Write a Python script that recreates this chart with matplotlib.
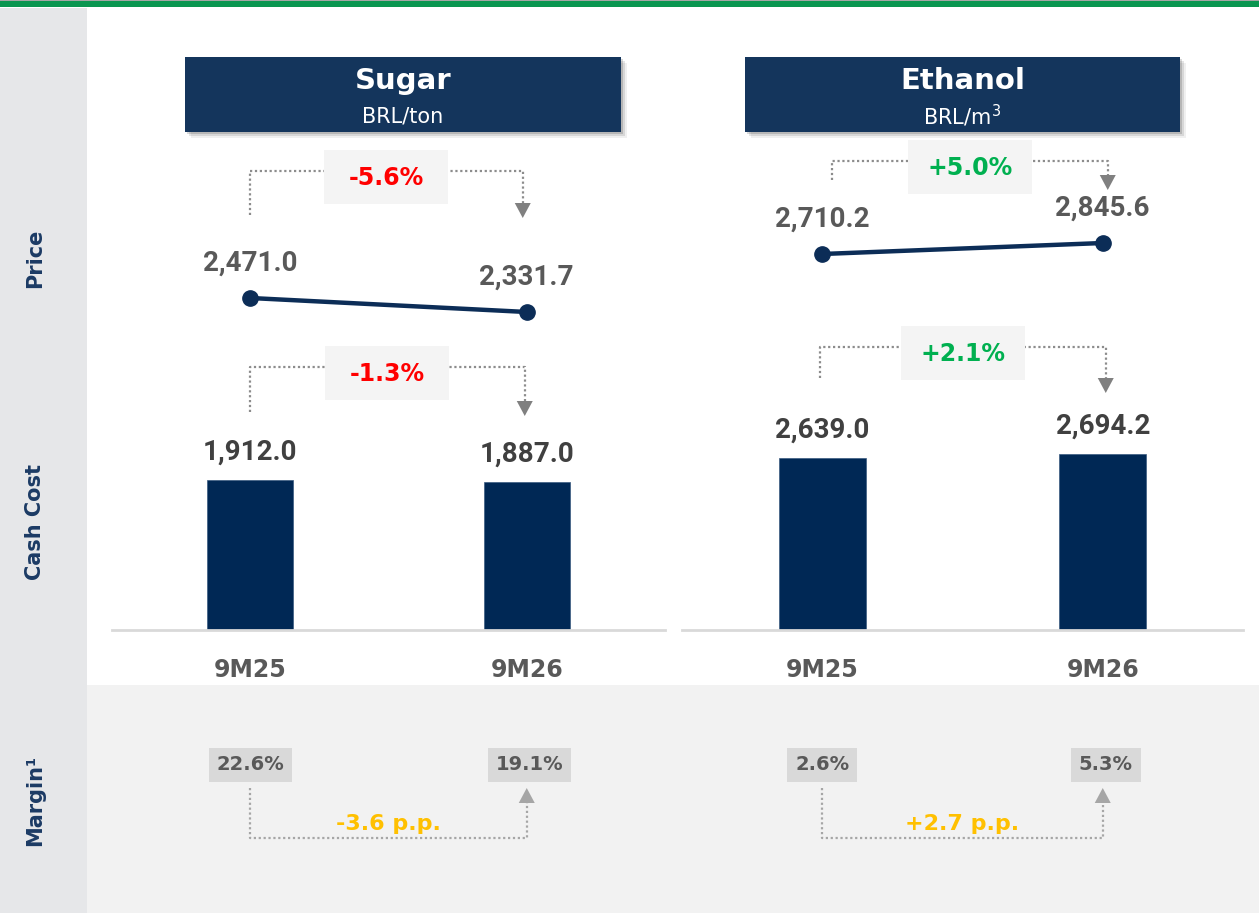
import matplotlib
matplotlib.use('Agg')
import matplotlib.pyplot as plt
from matplotlib.patches import Rectangle, Polygon

W, H = 1259, 913  # tamanho da figura em pixels

periods = ['9M25', '9M26']
sugar_price = [2471.0, 2331.7]
sugar_cost = [1912.0, 1887.0]
sugar_margin = ['22.6%', '19.1%']
ethanol_price = [2710.2, 2845.6]
ethanol_cost = [2639.0, 2694.2]
ethanol_margin = ['2.6%', '5.3%']

price_change = ['-5.6%', '+5.0%']
cost_change = ['-1.3%', '+2.1%']
margin_change = ['-3.6 p.p.', '+2.7 p.p.']

NAVY = '#14355c'
BAR = '#002855'
GRAY_TXT = '#595959'
LBL = ['DejaVu Sans']
NUM = ['Roboto', 'DejaVu Sans']


def rect_px(x0, y0, x1, y1):  # pixels -> fracao da figura
    return [x0 / W, 1 - y1 / H, (x1 - x0) / W, (y1 - y0) / H]


def cat_px(ax, i):  # posicao x da categoria em pixels
    return ax.transData.transform((i, 0))[0]


def fmt(v):
    return f'{v:,.1f}'


def bracket(ov, x0, x1, y_a, y_b, y_tip, label, color, box=True, line_color='#8c8c8c',
            head_color='#808080', txt_dy=0):
    head = 15
    sign = 1 if y_tip > y_b else -1
    ov.plot([x0, x0, x1, x1], [y_a, y_b, y_b, y_tip - sign * head], ls=(0, (1, 1.2)),
            color=line_color, lw=1.6, zorder=3)
    ov.add_patch(Polygon([[x1 - 8, y_tip - sign * head], [x1 + 8, y_tip - sign * head], [x1, y_tip]],
                         closed=True, fc=head_color, ec='none', zorder=4))
    xm = (x0 + x1) / 2
    if box:
        ov.add_patch(Rectangle((xm - 62, y_b - 21), 124, 54, fc='#f4f4f4', ec='none', zorder=5))
        ov.text(xm, y_b + 7 + txt_dy, label, color=color, fontsize=17, fontweight='bold',
                family=LBL, ha='center', va='center', zorder=6)
    else:
        ov.text(xm, y_b - 14 + txt_dy, label, color=color, fontsize=16, fontweight='bold',
                family=LBL, ha='center', va='center', zorder=6)


fig = plt.figure(figsize=(W / 100, H / 100), dpi=100)

# fundo / decoracoes em coordenadas de pixel
ov = fig.add_axes([0, 0, 1, 1], zorder=0)
ov.set_xlim(0, W)
ov.set_ylim(H, 0)
ov.axis('off')
ov.add_patch(Rectangle((0, 0), W, 1.5, fc='#a6a6a6', ec='none'))
ov.add_patch(Rectangle((0, 1.5), W, 5.5, fc='#0a9650', ec='none'))
ov.add_patch(Rectangle((0, 8), 87, H - 8, fc='#e6e7e9', ec='none'))
ov.add_patch(Rectangle((87, 685), W - 87, H - 685, fc='#f2f2f2', ec='none'))

ov.text(35, 258, 'Price', rotation=90, color='#1b3a64', fontsize=15, fontweight='bold',
        family=LBL, ha='center', va='center')
ov.text(35, 522, 'Cash Cost', rotation=90, color='#1b3a64', fontsize=15, fontweight='bold',
        family=LBL, ha='center', va='center')
ov.text(35, 800, 'Margin¹', rotation=90, color='#1b3a64', fontsize=15, fontweight='bold',
        family=LBL, ha='center', va='center')

panels = [
    dict(title='Sugar', unit='BRL/ton', price=sugar_price, cost=sugar_cost, margin=sugar_margin,
         hx=(185, 621), px=(112, 665), plim=(2152.6, 3943.2), clim=(0, 3824),
         pcol='#ff0000', mcol='#ffc000', idx=0),
    dict(title='Ethanol', unit='BRL/m$^{3}$', price=ethanol_price, cost=ethanol_cost, margin=ethanol_margin,
         hx=(745, 1180), px=(682, 1243), plim=(1774.6, 3990.6), clim=(0, 4603),
         pcol='#00b050', mcol='#ffc000', idx=1),
]

for p in panels:
    i = p['idx']
    # cabecalho com sombra
    x0, x1 = p['hx']
    for k, a in [(6, 0.06), (4, 0.1), (2, 0.15)]:
        ov.add_patch(Rectangle((x0 + k, 57 + k), x1 - x0, 75, fc='#000000', alpha=a, ec='none'))
    ov.add_patch(Rectangle((x0, 57), x1 - x0, 75, fc=NAVY, ec='none'))
    xc = (x0 + x1) / 2
    ov.text(xc, 81, p['title'], color='white', fontsize=21, fontweight='bold', family=LBL,
            ha='center', va='center')
    ov.text(xc, 116, p['unit'], color='white', fontsize=15, family=LBL, ha='center', va='center')

    # custo caixa (barras)
    axc = fig.add_axes(rect_px(p['px'][0], 330, p['px'][1], 630), zorder=2)
    axc.set_facecolor('none')
    axc.bar(range(len(periods)), p['cost'], width=0.31, color=BAR, edgecolor='#3a5a80', lw=0.5)
    axc.set_xlim(-0.5, 1.5)
    axc.set_ylim(*p['clim'])
    for j, v in enumerate(p['cost']):
        axc.annotate(fmt(v), (j, v), xytext=(0, 20), textcoords='offset points', ha='center',
                     va='center', fontsize=20, fontweight='bold', family=NUM, color='#404040')
    for s in ['top', 'left', 'right']:
        axc.spines[s].set_visible(False)
    axc.spines['bottom'].set_color('#d9d9d9')
    axc.spines['bottom'].set_linewidth(2)
    axc.set_yticks([])
    axc.set_xticks(range(len(periods)))
    axc.set_xticklabels(periods, fontsize=17, fontweight='bold', family=LBL, color=GRAY_TXT)
    axc.tick_params(axis='x', length=0, pad=20)

    # preco (linha)
    axp = fig.add_axes(rect_px(p['px'][0], 150, p['px'][1], 330), zorder=2)
    axp.set_facecolor('none')
    axp.plot(range(len(periods)), p['price'], color='#0c2d57', lw=3.2, marker='o', ms=11,
             solid_capstyle='round')
    axp.set_xlim(-0.5, 1.5)
    axp.set_ylim(*p['plim'])
    for j, v in enumerate(p['price']):
        axp.annotate(fmt(v), (j, v), xytext=(0, 25), textcoords='offset points', ha='center',
                     va='center', fontsize=20, fontweight='bold', family=NUM, color=GRAY_TXT)
    axp.axis('off')

    c0 = cat_px(axc, 0)
    c1 = cat_px(axc, 1)

    # setas de variacao
    if i == 0:
        bracket(ov, c0, c1 - 4, 215, 171, 218, price_change[i], '#ff0000')
        bracket(ov, c0, c1 - 2, 412, 367, 416, cost_change[i], '#ff0000')
    else:
        bracket(ov, c0 + 10, c1 + 5, 180, 161, 190, price_change[i], '#00b050')
        bracket(ov, c0 - 2, c1 + 3, 378, 347, 393, cost_change[i], '#00b050')

    # margem
    for j, m in enumerate(p['margin']):
        cx = cat_px(axc, j)
        ov.text(cx + (3 if j == 1 else 0), 765, m, color=GRAY_TXT, fontsize=14, fontweight='bold',
                family=LBL, ha='center', va='center',
                bbox=dict(boxstyle='square,pad=0.4', fc='#d9d9d9', ec='none'))
    bracket(ov, c0, c1, 788, 838, 788, margin_change[i], p['mcol'], box=False,
            line_color='#a6a6a6', head_color='#a6a6a6')

fig.savefig('out.png', dpi=100)
